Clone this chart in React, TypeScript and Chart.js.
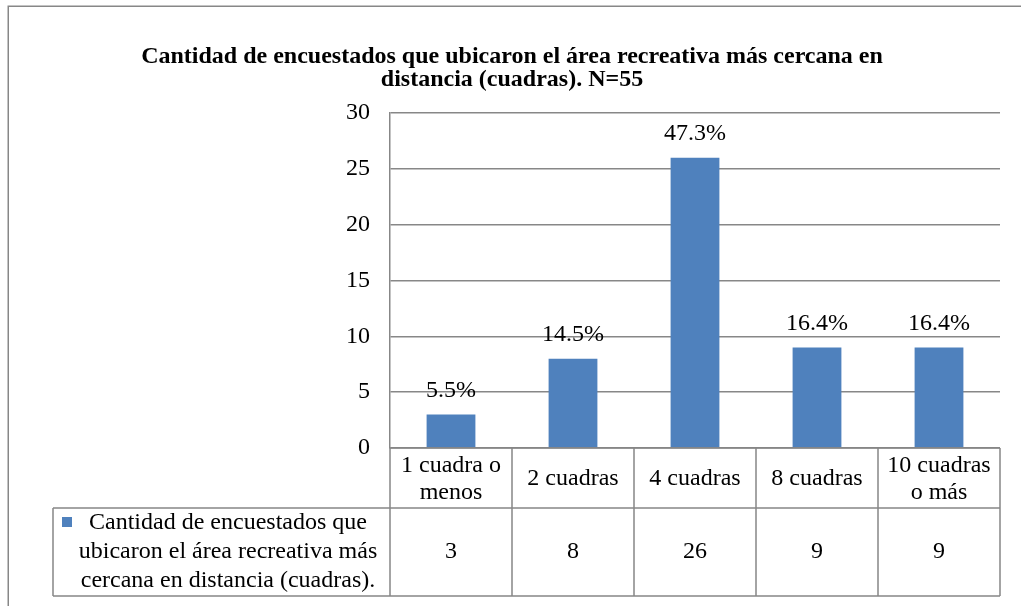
import React, { useEffect, useRef } from "react";
import { Chart, registerables } from "chart.js";

Chart.register(...registerables);

const TITLE_LINES = [
  "Cantidad de encuestados que ubicaron el área recreativa más cercana en",
  "distancia (cuadras). N=55",
];
const CATEGORIES = ["1 cuadra o menos", "2 cuadras", "4 cuadras", "8 cuadras", "10 cuadras o más"];
const CATEGORY_LINES = [["1 cuadra o", "menos"], ["2 cuadras"], ["4 cuadras"], ["8 cuadras"], ["10 cuadras", "o más"]];
const VALUES = [3, 8, 26, 9, 9];
const PERCENT_LABELS = ["5.5%", "14.5%", "47.3%", "16.4%", "16.4%"];
const SERIES_NAME = "Cantidad de encuestados que ubicaron el área recreativa más cercana en distancia (cuadras).";
const SERIES_LINES = ["Cantidad de encuestados que", "ubicaron el área recreativa más", "cercana en distancia (cuadras)."];
const Y_MIN = 0;
const Y_MAX = 30;
const Y_STEP = 5;

const FONT = "'Liberation Serif', 'Times New Roman', serif";
const BAR_COLOR = "#4F81BD";
const LINE_COLOR = "#878787";

const overlayPlugin = {
  id: "overlayPlugin",
  afterDraw(chart: any) {
    const { ctx, chartArea, scales } = chart;
    const x = scales.x;
    const left = chartArea.left;
    const right = chartArea.right;
    const bottom = chartArea.bottom;
    const colW = x.getPixelForValue(1) - x.getPixelForValue(0);
    const headerBottom = bottom + 60;
    const tableBottom = headerBottom + 88;
    const legendLeft = 53;

    ctx.save();
    // outer frame
    ctx.strokeStyle = LINE_COLOR;
    ctx.lineWidth = 1.5;
    ctx.strokeRect(8.25, 6.25, 1100, 1000);

    // title
    ctx.fillStyle = "#000";
    ctx.font = `bold 24px ${FONT}`;
    ctx.textAlign = "center";
    ctx.textBaseline = "middle";
    TITLE_LINES.forEach((t, i) => ctx.fillText(t, 512, 57 + i * 23));

    // percentage labels
    const meta = chart.getDatasetMeta(0);
    ctx.font = `24px ${FONT}`;
    meta.data.forEach((bar: any, i: number) => {
      ctx.fillText(PERCENT_LABELS[i], bar.x, bar.y - 24);
    });

    // table lines
    ctx.strokeStyle = LINE_COLOR;
    ctx.lineWidth = 1.5;
    ctx.beginPath();
    ctx.moveTo(left, bottom);
    ctx.lineTo(right, bottom);
    ctx.moveTo(legendLeft, headerBottom);
    ctx.lineTo(right, headerBottom);
    ctx.moveTo(legendLeft, tableBottom);
    ctx.lineTo(right, tableBottom);
    ctx.moveTo(legendLeft, headerBottom);
    ctx.lineTo(legendLeft, tableBottom);
    for (let i = 0; i <= CATEGORIES.length; i++) {
      const cx = x.getPixelForValue(0) - colW / 2 + i * colW;
      ctx.moveTo(cx, bottom);
      ctx.lineTo(cx, tableBottom);
    }
    ctx.stroke();

    // header text
    ctx.fillStyle = "#000";
    ctx.font = `24px ${FONT}`;
    CATEGORY_LINES.forEach((lines, i) => {
      const cx = x.getPixelForValue(i);
      const mid = (bottom + headerBottom) / 2 + 1;
      const lh = 27;
      lines.forEach((l, j) => {
        ctx.fillText(l, cx, mid + (j - (lines.length - 1) / 2) * lh);
      });
    });

    // values row
    const valMid = (headerBottom + tableBottom) / 2;
    VALUES.forEach((v, i) => {
      ctx.fillText(String(v), x.getPixelForValue(i), valMid);
    });

    // legend cell
    const lh2 = 29;
    const textCx = 228;
    SERIES_LINES.forEach((l, j) => {
      ctx.fillText(l, textCx, valMid + (j - 1) * lh2);
    });
    ctx.fillStyle = BAR_COLOR;
    ctx.fillRect(62, valMid - lh2 - 6, 10, 10);
    ctx.restore();
  },
};

export default function App() {
  const ref = useRef<HTMLCanvasElement>(null);
  useEffect(() => {
    document.body.style.margin = "0";
    const chart = new Chart(ref.current!, {
      type: "bar",
      data: {
        labels: CATEGORIES,
        datasets: [
          {
            label: SERIES_NAME,
            data: VALUES,
            backgroundColor: BAR_COLOR,
            barPercentage: 0.4,
            categoryPercentage: 1,
          },
        ],
      },
      options: {
        responsive: false,
        animation: false,
        layout: { padding: { left: 0, top: 113, right: 21, bottom: 158 } },
        plugins: { legend: { display: false }, title: { display: false }, tooltip: { enabled: false } },
        scales: {
          x: { display: false },
          y: {
            min: Y_MIN,
            max: Y_MAX,
            ticks: { stepSize: Y_STEP, color: "#000", padding: 20, font: { family: FONT, size: 24 } },
            grid: { color: LINE_COLOR, lineWidth: 1.5, drawTicks: false },
            border: { display: true, color: LINE_COLOR, width: 1.5 },
            afterFit: (s: any) => {
              s.width = 390;
            },
          },
        },
      },
      plugins: [overlayPlugin],
    });
    return () => chart.destroy();
  }, []);
  return (
    <div style={{ position: "fixed", left: 0, top: 0, background: "#fff" }}>
      <canvas ref={ref} width={1021} height={606} style={{ display: "block" }} />
    </div>
  );
}
